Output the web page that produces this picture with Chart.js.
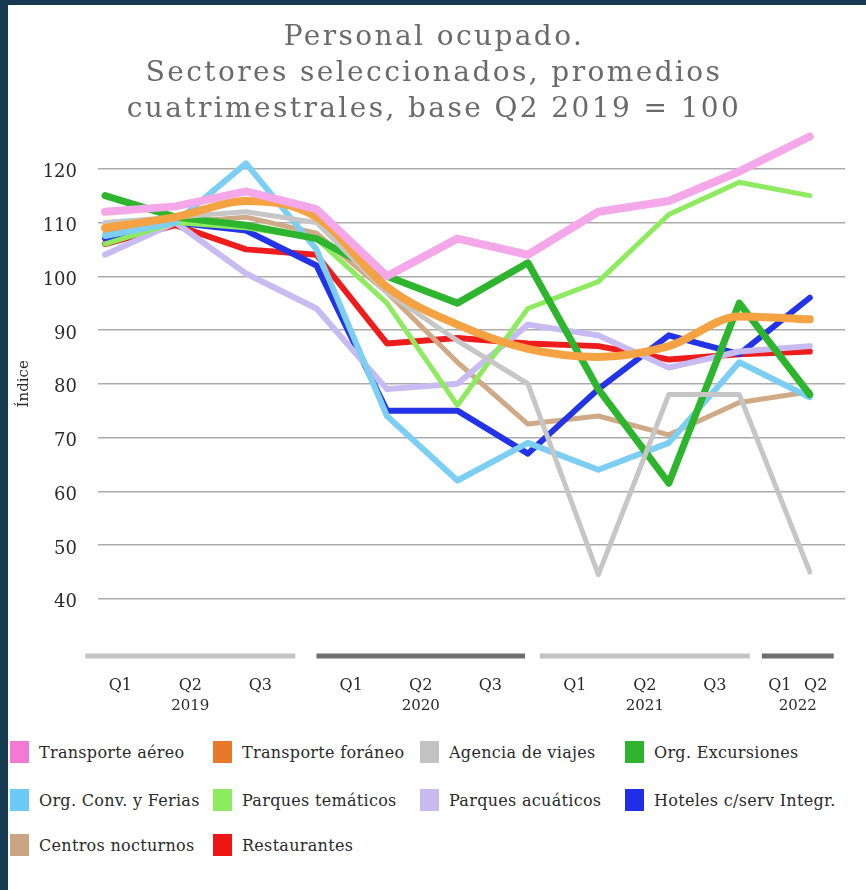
<!DOCTYPE html>
<html><head><meta charset="utf-8">
<script src="https://cdn.jsdelivr.net/npm/chart.js@4.4.0/dist/chart.umd.min.js"></script>
<style>
html,body{margin:0;padding:0;background:#173a53;width:866px;height:890px;overflow:hidden;}
#panel{position:absolute;left:8px;top:5px;width:858px;height:885px;background:#fff;}
#c{position:absolute;left:0;top:0;}
.item{position:absolute;display:flex;align-items:center;font-family:'DejaVu Serif',serif;font-size:16px;color:#2a2a2a;letter-spacing:0.3px;white-space:nowrap;}
.box{width:19px;height:22px;margin-right:10px;flex:none;}
</style></head>
<body><div id="panel"></div><canvas id="c" width="866" height="730"></canvas><div id="legend"></div>
<script>
// ---- data ----
const periods = ['Q1','Q2','Q3','Q1','Q2','Q3','Q1','Q2','Q3','Q1','Q2'];
const years = ['2019','2020','2021','2022'];
const periodsPerYear = [3,3,3,2];
const seriesNames = ['Transporte aéreo','Transporte foráneo','Agencia de viajes','Org. Excursiones',
  'Org. Conv. y Ferias','Parques temáticos','Parques acuáticos','Hoteles c/serv Integr.',
  'Centros nocturnos','Restaurantes'];
const transporteAereo   = [112, 113, 115.8, 112.5, 100, 107, 104, 112, 114, 119.5, 126];
const transporteForaneo = [109, 111, 114, 111, 98, 91, 86.5, 85, 87, 92.5, 92];
const agenciaViajes     = [110, 111, 112, 110, 97, 88, 80, 44.5, 78, 78, 45];
const orgExcursiones    = [115, 111, 109.5, 107, 100, 95, 102.5, 79, 61.5, 95, 78];
const orgConvFerias     = [107.5, 110, 121, 105, 74, 62, 69, 64, 69, 84, 77.5];
const parquesTematicos  = [106, 110, 109, 107, 95, 76, 94, 99, 111.5, 117.5, 115];
const parquesAcuaticos  = [104, 110, 100.5, 94, 79, 80, 91, 89, 83, 86, 87];
const hoteles           = [107, 110, 108.5, 102, 75, 75, 67, 79, 89, 85.5, 96];
const centrosNocturnos  = [108, 110, 111, 108, 97, 84, 72.5, 74, 70.5, 76.5, 78.5];
const restaurantes      = [106, 109.5, 105, 104, 87.5, 88.5, 87.5, 87, 84.5, 85.5, 86];
const yTicks = [40, 50, 60, 70, 80, 90, 100, 110, 120];

// ---- styles ----
const seriesValues = [transporteAereo, transporteForaneo, agenciaViajes, orgExcursiones, orgConvFerias,
  parquesTematicos, parquesAcuaticos, hoteles, centrosNocturnos, restaurantes];
const lineColors = ['#f4a8ea','#f5a242','#c6c6c6','#2db52d','#7ccff2','#8eea5e','#c8bbf2','#2233e8','#d0aa86','#ee1c1c'];
const legendColors = ['#f27ad2','#e8782a','#c2c2c2','#2db32d','#6ccaf6','#8ced5e','#c9baf2','#1f2fe8','#c9a584','#ee1515'];
const lineWidths = [8, 8, 5, 7, 6, 5, 6, 6, 5, 6];
const smooth = [false, true, false, false, false, false, false, false, false, false];
const FONT = "'DejaVu Serif', serif";

// year group spans in x-index units (axis band layout)
const groupSpans = [[-0.28, 2.70], [3.0, 5.96], [6.17, 9.15], [9.32, 10.34]];
const groupColors = ['#c4c4c4', '#6e6e6e', '#c4c4c4', '#6e6e6e'];
const tickPositions = [];
groupSpans.forEach((s, g) => {
  const n = periodsPerYear[g];
  for (let k = 0; k < n; k++) tickPositions.push(s[0] + (k + 0.5) * (s[1] - s[0]) / n);
});

const datasets = seriesNames.map((name, i) => ({
  label: name,
  data: seriesValues[i].map((v, j) => ({x: j, y: v})),
  borderColor: lineColors[i],
  backgroundColor: legendColors[i],
  borderWidth: lineWidths[i],
  pointRadius: 0,
  tension: smooth[i] ? 0.35 : 0,
  cubicInterpolationMode: smooth[i] ? 'monotone' : 'default',
  borderJoinStyle: 'round',
  borderCapStyle: 'round',
  fill: false
}));

const titlePlugin = {
  id: 'titleText',
  afterDraw(chart) {
    const ctx = chart.ctx;
    ctx.save();
    ctx.font = "28px " + FONT;
    ctx.fillStyle = '#6a6a6a';
    ctx.textAlign = 'center';
    ctx.textBaseline = 'middle';
    try { ctx.letterSpacing = '2.4px'; } catch (e) {}
    const lines = ['Personal ocupado.', 'Sectores seleccionados, promedios', 'cuatrimestrales, base Q2 2019 = 100'];
    const ys = [38, 74, 110];
    lines.forEach((t, i) => ctx.fillText(t, 434, ys[i]));
    ctx.restore();
  }
};

const axisBands = {
  id: 'axisBands',
  afterDraw(chart) {
    const ctx = chart.ctx, xs = chart.scales.x, area = chart.chartArea;
    ctx.save();
    groupSpans.forEach((s, g) => {
      const a = xs.getPixelForValue(s[0]), b = xs.getPixelForValue(s[1]);
      ctx.fillStyle = groupColors[g];
      ctx.fillRect(a, area.bottom + 1, b - a, 5);
      ctx.font = "15px " + FONT;
      ctx.fillStyle = '#2a2a2a';
      ctx.textAlign = 'center';
      ctx.textBaseline = 'middle';
      ctx.fillText(years[g], (a + b) / 2, 706);
    });
    ctx.restore();
  }
};

new Chart(document.getElementById('c'), {
  type: 'line',
  data: {datasets},
  options: {
    responsive: false,
    animation: false,
    devicePixelRatio: 1,
    layout: {padding: {left: 8, top: 115, right: 21, bottom: 0}},
    plugins: {legend: {display: false}, title: {display: false}, tooltip: {enabled: false}},
    scales: {
      x: {
        type: 'linear', min: -0.1, max: 10.5,
        grid: {display: false}, border: {display: false},
        afterBuildTicks: s => { s.ticks = tickPositions.map(v => ({value: v})); },
        afterFit: s => { s.height = 77.5; },
        ticks: {
          autoSkip: false, maxRotation: 0, padding: 16,
          color: '#2a2a2a', font: {family: FONT, size: 16},
          callback: (v, i) => periods[i]
        }
      },
      y: {
        min: 30, max: 130,
        afterBuildTicks: s => { s.ticks = yTicks.map(v => ({value: v})); },
        afterFit: s => { s.width = 90; },
        grid: {color: '#ababab', lineWidth: 1.5, drawTicks: false},
        border: {display: false},
        ticks: {padding: 21, labelOffset: 4, color: '#2a2a2a', font: {family: FONT, size: 18}},
        title: {display: true, text: 'Índice', color: '#2a2a2a', font: {family: FONT, size: 15}, padding: {top: 7}}
      }
    }
  },
  plugins: [titlePlugin, axisBands]
});

// ---- legend ----
const colLeft = [10, 213, 420, 625];
const rowCenter = [752, 800, 845];
const legendEl = document.getElementById('legend');
seriesNames.forEach((name, i) => {
  const d = document.createElement('div');
  d.className = 'item';
  d.style.left = colLeft[i % 4] + 'px';
  d.style.top = (rowCenter[Math.floor(i / 4)] - 11) + 'px';
  d.style.height = '22px';
  d.innerHTML = '<span class="box" style="background:' + legendColors[i] + '"></span><span>' + name + '</span>';
  legendEl.appendChild(d);
});
</script>
</body></html>
